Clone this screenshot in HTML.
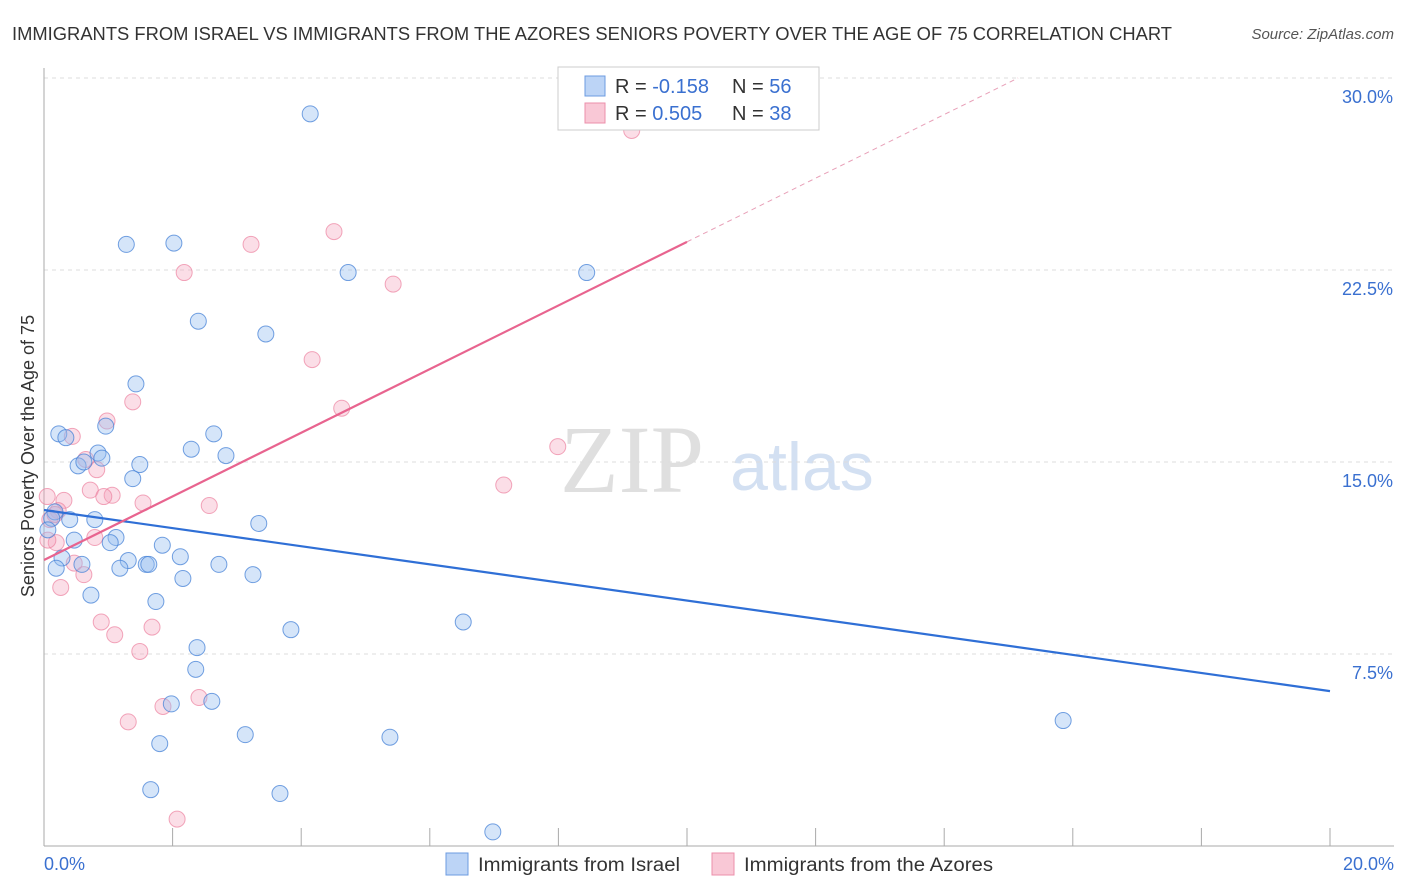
<!DOCTYPE html>
<html><head><meta charset="utf-8">
<style>
body{margin:0;background:#fff;font-family:"Liberation Sans",sans-serif;}
svg{display:block}
</style></head>
<body>
<svg id="chart" width="1406" height="892" xmlns="http://www.w3.org/2000/svg">
<text x="12" y="40" font-size="18" fill="#333" textLength="1160" lengthAdjust="spacingAndGlyphs">IMMIGRANTS FROM ISRAEL VS IMMIGRANTS FROM THE AZORES SENIORS POVERTY OVER THE AGE OF 75 CORRELATION CHART</text>
<text x="1394" y="39" font-size="15" fill="#555" text-anchor="end" font-style="italic">Source: ZipAtlas.com</text>
<g>
<text x="632" y="492" font-size="96" fill="#d8d8d8" text-anchor="middle" font-family="Liberation Serif" opacity="0.8">ZIP</text>
<text x="802" y="490" font-size="68" fill="#c9d9ef" text-anchor="middle" opacity="0.8">atlas</text>
</g>
<g id="grid"></g>
<g id="axes"></g>
<g id="marks"></g>
<text transform="translate(34,456) rotate(-90)" font-size="18" fill="#333" text-anchor="middle">Seniors Poverty Over the Age of 75</text>
<g>
<rect x="558" y="67" width="261" height="63" fill="#fff" stroke="#ccc"/>
<rect x="585" y="76" width="20" height="20" fill="#bcd4f6" stroke="#6c9be0"/>
<rect x="585" y="103" width="20" height="20" fill="#f9c8d6" stroke="#ec8fab"/>
<text x="615" y="93" font-size="20" fill="#333">R = <tspan fill="#3a70d0">-0.158</tspan></text>
<text x="732" y="93" font-size="20" fill="#333">N = <tspan fill="#3a70d0">56</tspan></text>
<text x="615" y="120" font-size="20" fill="#333">R = <tspan fill="#3a70d0"> 0.505</tspan></text>
<text x="732" y="120" font-size="20" fill="#333">N = <tspan fill="#3a70d0">38</tspan></text>
</g>
<g>
<rect x="446" y="853" width="22" height="22" fill="#bcd4f6" stroke="#6c9be0"/>
<text x="478" y="871" font-size="19" fill="#333" textLength="202" lengthAdjust="spacingAndGlyphs">Immigrants from Israel</text>
</g>
<g>
<rect x="712" y="853" width="22" height="22" fill="#f9c8d6" stroke="#ec8fab"/>
<text x="744" y="871" font-size="19" fill="#333" textLength="249" lengthAdjust="spacingAndGlyphs">Immigrants from the Azores</text>
</g>
</svg>
<script>
const blueX=[4.14,1.28,2.02,4.73,8.44,2.40,3.45,1.43,0.96,0.23,0.34,2.64,0.84,0.90,2.29,2.83,0.53,0.62,1.49,1.38,0.17,0.12,0.40,0.79,3.34,0.47,1.12,1.03,1.84,2.12,0.28,0.59,1.31,1.59,1.63,1.18,2.72,0.19,2.16,3.25,0.73,1.74,6.52,3.84,2.38,2.36,1.98,2.61,3.13,5.38,1.80,15.85,1.66,3.67,6.98,0.06];
const blueY=[28.6,23.5,23.55,22.4,22.4,20.5,20.0,18.05,16.4,16.1,15.95,16.1,15.35,15.15,15.5,15.25,14.85,15.0,14.9,14.35,13.05,12.8,12.75,12.75,12.6,11.95,12.05,11.85,11.75,11.3,11.25,11.0,11.15,11.0,11.0,10.85,11.0,10.85,10.45,10.6,9.8,9.55,8.75,8.45,7.75,6.9,5.55,5.65,4.35,4.25,4.0,4.9,2.2,2.05,0.55,12.35];
const pinkX=[9.14,4.51,3.22,2.18,5.43,4.17,4.63,1.38,0.98,0.44,0.65,0.82,0.72,1.06,0.93,1.54,2.57,0.31,0.05,0.22,7.15,7.99,0.09,0.79,0.19,0.47,0.62,0.26,0.89,1.10,1.68,1.49,1.31,1.85,2.41,2.07,0.06,0.17];
const pinkY=[27.95,24.0,23.5,22.4,21.95,19.0,17.1,17.35,16.6,16.0,15.1,14.7,13.9,13.7,13.65,13.4,13.3,13.5,13.65,13.1,14.1,15.6,12.75,12.05,11.85,11.05,10.6,10.1,8.75,8.25,8.55,7.6,4.85,5.45,5.8,1.05,11.95,12.95];
const blueFit=[13.125,6.05];
const pinkFit=[11.17,23.6];
const yTicks=[7.5,15.0,22.5,30.0];
const yTickLabels=["7.5%","15.0%","22.5%","30.0%"];
const xTickLabels=["0.0%","20.0%"];
const NS="http://www.w3.org/2000/svg";
const sx=v=>44+v*64.3, sy=v=>846-v*25.6;
function mk(tag,attrs,parent){const e=document.createElementNS(NS,tag);for(const k in attrs)e.setAttribute(k,attrs[k]);parent.appendChild(e);return e;}
const grid=document.getElementById('grid'),axes=document.getElementById('axes'),marks=document.getElementById('marks');
yTicks.forEach((t,i)=>{
 const l=mk('line',{x1:44,x2:1394,y1:sy(t),y2:sy(t),stroke:'#ddd','stroke-dasharray':'4,4'},grid);
 
 
 const tx=mk('text',{x:1393,y:sy(t)+25,'font-size':18,fill:'#3a70d0','text-anchor':'end'},axes);
 tx.textContent=yTickLabels[i];
 
 
});
const ya=mk('line',{x1:44,x2:44,y1:68,y2:846,stroke:'#aaa'},axes);


const xa=mk('line',{x1:44,x2:1394,y1:846,y2:846,stroke:'#aaa'},axes);


for(let i=0;i<=10;i++){
 const t=mk('line',{x1:sx(i*2),x2:sx(i*2),y1:828,y2:846,stroke:'#aaa'},axes);
 
 
}
[[0,'start',44],[20,'end',1394]].forEach((d,i)=>{
 const tx=mk('text',{x:d[2],y:870,'font-size':18,fill:'#3a70d0','text-anchor':d[1]},axes);
 tx.textContent=xTickLabels[i];
 
 
});
pinkX.forEach((x,i)=>{
 const c=mk('circle',{cx:sx(x),cy:sy(pinkY[i]),r:8,fill:'rgba(244,160,185,0.35)',stroke:'rgba(236,130,160,0.7)','stroke-width':1},marks);
 
 
});
blueX.forEach((x,i)=>{
 const c=mk('circle',{cx:sx(x),cy:sy(blueY[i]),r:8,fill:'rgba(150,190,240,0.4)',stroke:'rgba(70,130,215,0.75)','stroke-width':1},marks);
 
 
});
const bl=mk('line',{x1:sx(0),y1:sy(blueFit[0]),x2:sx(20),y2:sy(blueFit[1]),stroke:'#2f6fd6','stroke-width':2.2},marks);


const slope=(pinkFit[1]-pinkFit[0])/10;
const pl=mk('line',{x1:sx(0),y1:sy(pinkFit[0]),x2:sx(10),y2:sy(pinkFit[1]),stroke:'#e8648f','stroke-width':2.2},marks);


const xEnd=(30-pinkFit[0])/slope;
const pd=mk('line',{x1:sx(10),y1:sy(pinkFit[1]),x2:sx(xEnd),y2:sy(30),stroke:'#e8a0b8','stroke-width':1,'stroke-dasharray':'5,4'},marks);


</script>
</body></html>
